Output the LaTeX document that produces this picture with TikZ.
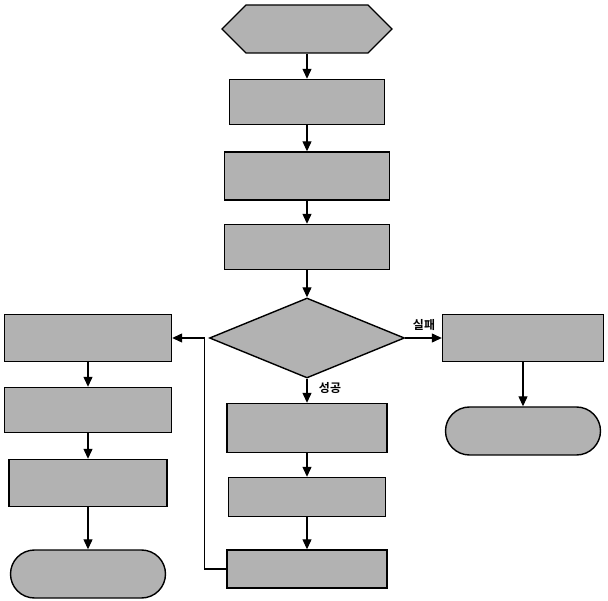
\documentclass[tikz,border=0pt]{standalone}
\usepackage{fontspec}
\newfontfamily\kr{Noto Sans CJK KR}[BoldFont={Noto Sans CJK KR Bold}]
\usetikzlibrary{shapes.geometric,shapes.misc,shapes.symbols,arrows.meta}

\begin{document}
\begin{tikzpicture}[x=1pt,y=-1pt]
\tikzset{boite/.style={draw, line width=1.4pt, fill=gray!60, minimum width=160pt, minimum height=46pt, inner sep=0pt},
fin/.style={boite, rounded rectangle},
fleche/.style={line width=1.2pt, -{Triangle[length=10pt,width=9pt]}},
etiq/.style={font=\kr\bfseries\large, inner sep=1pt}}
\useasboundingbox (0,0) rectangle (608,601);
\node[boite, signal, signal to=west and east, minimum width=170pt, minimum height=48pt] (D) at (307,29) {};
\node[boite, minimum width=155pt, minimum height=45pt] (B1) at (307,102) {};
\node[boite, minimum width=165pt, minimum height=48pt] (B2) at (307,176) {};
\node[boite, minimum width=165pt, minimum height=45pt] (B3) at (307,247) {};
\node[boite, diamond, minimum width=195pt, minimum height=80pt] (Q) at (307,338) {};
\node[boite, minimum width=160pt, minimum height=49pt] (S1) at (307,428) {};
\node[boite, minimum width=157pt, minimum height=39pt] (S2) at (307,497) {};
\node[boite, minimum width=160pt, minimum height=38pt] (S3) at (307,569) {};
\node[boite, minimum width=161pt, minimum height=47pt] (E1) at (523,338) {};
\node[fin, minimum width=155pt, minimum height=48pt] (E2) at (523,431) {};
\node[boite, minimum width=167pt, minimum height=47pt] (L1) at (88,338) {};
\node[boite, minimum width=167pt, minimum height=45pt] (L2) at (88,410) {};
\node[boite, minimum width=158pt, minimum height=47pt] (L3) at (88,483) {};
\node[fin, minimum width=155pt, minimum height=48pt] (L4) at (88,574) {};
\node[etiq] (NON) at (424,325) {실패};
\node[etiq] (OUI) at (330,388) {성공};
\draw[fleche] (D) -- (B1);
\draw[fleche] (B1) -- (B2);
\draw[fleche] (B2) -- (B3);
\draw[fleche] (B3) -- (Q);
\draw[fleche] (Q) -- (S1);
\draw[fleche] (S1) -- (S2);
\draw[fleche] (S2) -- (S3);
\draw[fleche] (Q) -- (E1);
\draw[fleche] (E1) -- (E2);
\draw[fleche] (S3.west) -- ++(-22,0) |- (L1.east);
\draw[fleche] (L1) -- (L2);
\draw[fleche] (L2) -- (L3);
\draw[fleche] (L3) -- (L4);
\end{tikzpicture}
\end{document}
